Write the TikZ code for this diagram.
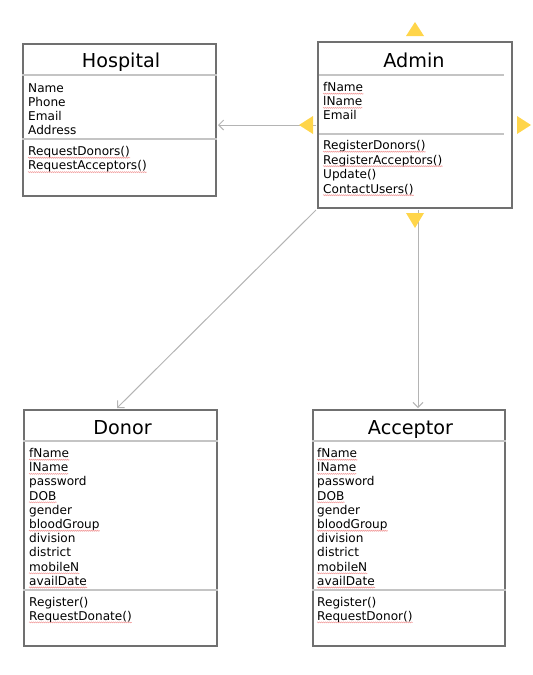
\documentclass[tikz,border=0pt]{standalone}
\usepackage{fontspec}
\setmainfont{DejaVu Sans}
\usetikzlibrary{arrows.meta,calc,decorations.pathmorphing}
\definecolor{boxgray}{HTML}{707070}
\definecolor{sepgray}{HTML}{C4C4C4}
\definecolor{linkgray}{HTML}{B4B4B4}
\definecolor{handle}{HTML}{FFD54A}
\definecolor{spellred}{HTML}{F2A0A0}
\newcommand{\bodyfnt}{\fontsize{12.1}{14}\selectfont}
\newcommand{\titlefnt}{\fontsize{19.2}{22}\selectfont}
\begin{document}
\begin{tikzpicture}[x=1pt,y=-1pt,
  classbox/.style={draw=boxgray,line width=2pt,fill=white,inner sep=0pt},
  sep/.style={draw=sepgray,line width=1.5pt},
  link/.style={draw=linkgray,line width=1pt,-{Straight Barb[length=5pt,width=10pt]}},
  attr/.style={anchor=base west,inner sep=0pt,font=\bodyfnt},
  title/.style={anchor=base,inner sep=0pt,font=\titlefnt},
  squig/.style={draw=spellred,line width=0.6pt,decorate,decoration={snake,amplitude=0.5pt,segment length=2pt}},
  hnd/.style={fill=handle,draw=none}]
\useasboundingbox (0,0) rectangle (533,675);
% boxes
\node[classbox,minimum width=193pt,minimum height=152pt] (hos) at (119.5,120) {};
\node[classbox,minimum width=194pt,minimum height=166pt] (adm) at (415,125) {};
\node[classbox,minimum width=193pt,minimum height=236pt] (don) at (120.5,528) {};
\node[classbox,minimum width=192pt,minimum height=236pt] (acc) at (409,528) {};
% separators
\draw[sep] ([yshift=-32pt]hos.north west) -- ([yshift=-32pt]hos.north east);
\draw[sep] ([yshift=-96pt]hos.north west) -- ([yshift=-96pt]hos.north east);
\draw[sep] ([xshift=2pt,yshift=-34pt]adm.north west) -- ([xshift=-9pt,yshift=-34pt]adm.north east);
\draw[sep] ([xshift=2pt,yshift=-93pt]adm.north west) -- ([xshift=-9pt,yshift=-93pt]adm.north east);
\draw[sep] ([yshift=-32pt]don.north west) -- ([yshift=-32pt]don.north east);
\draw[sep] ([yshift=-181pt]don.north west) -- ([yshift=-181pt]don.north east);
\draw[sep] ([yshift=-32pt]acc.north west) -- ([yshift=-32pt]acc.north east);
\draw[sep] ([yshift=-181pt]acc.north west) -- ([yshift=-181pt]acc.north east);
% titles
\node[title] (hosT) at (121,67) {Hospital};
\node[title] (admT) at (414,67) {Admin};
\node[title] (donT) at (122.5,434) {Donor};
\node[title] (accT) at (410.5,434) {Acceptor};
% Hospital
\foreach \t/\s [count=\i from 0] in {Name/0,Phone/0,Email/0,Address/0}
  {\node[attr] (hosA\i) at (28,{92+14.3*\i}) {\t};
   \ifnum\s=1 \draw[squig] ([yshift=-2.2pt]hosA\i.base west) -- ([yshift=-2.2pt]hosA\i.base east);\fi}
\foreach \t/\s [count=\i from 0] in {RequestDonors()/1,RequestAcceptors()/1}
  {\node[attr] (hosM\i) at (28,{155.5+14.4*\i}) {\t};
   \ifnum\s=1 \draw[squig] ([yshift=-2.2pt]hosM\i.base west) -- ([yshift=-2.2pt]hosM\i.base east);\fi}
% Admin
\foreach \t/\s [count=\i from 0] in {fName/1,lName/1,Email/0}
  {\node[attr] (admA\i) at (323,{91.5+14.2*\i}) {\t};
   \ifnum\s=1 \draw[squig] ([yshift=-2.2pt]admA\i.base west) -- ([yshift=-2.2pt]admA\i.base east);\fi}
\foreach \t/\s [count=\i from 0] in {RegisterDonors()/1,RegisterAcceptors()/1,Update()/0,ContactUsers()/1}
  {\node[attr] (admM\i) at (323,{149.5+14.5*\i}) {\t};
   \ifnum\s=1 \draw[squig] ([yshift=-2.2pt]admM\i.base west) -- ([yshift=-2.2pt]admM\i.base east);\fi}
% Donor
\foreach \t/\s [count=\i from 0] in {fName/1,lName/1,password/0,DOB/1,gender/0,bloodGroup/1,division/0,district/0,mobileN/1,availDate/1}
  {\node[attr] (donA\i) at (29,{457.5+14.2*\i}) {\t};
   \ifnum\s=1 \draw[squig] ([yshift=-2.2pt]donA\i.base west) -- ([yshift=-2.2pt]donA\i.base east);\fi}
\foreach \t/\s [count=\i from 0] in {Register()/0,RequestDonate()/1}
  {\node[attr] (donM\i) at (29,{606+14.2*\i}) {\t};
   \ifnum\s=1 \draw[squig] ([yshift=-2.2pt]donM\i.base west) -- ([yshift=-2.2pt]donM\i.base east);\fi}
% Acceptor
\foreach \t/\s [count=\i from 0] in {fName/1,lName/1,password/0,DOB/1,gender/0,bloodGroup/1,division/0,district/0,mobileN/1,availDate/1}
  {\node[attr] (accA\i) at (317,{457.5+14.2*\i}) {\t};
   \ifnum\s=1 \draw[squig] ([yshift=-2.2pt]accA\i.base west) -- ([yshift=-2.2pt]accA\i.base east);\fi}
\foreach \t/\s [count=\i from 0] in {Register()/0,RequestDonor()/1}
  {\node[attr] (accM\i) at (317,{606+14.2*\i}) {\t};
   \ifnum\s=1 \draw[squig] ([yshift=-2.2pt]accM\i.base west) -- ([yshift=-2.2pt]accM\i.base east);\fi}
% connectors
\draw[link] ([xshift=-1pt]adm.west) -- ([xshift=1pt]adm.west -| hos.east);
\draw[link] ([xshift=-1pt,yshift=-1pt]adm.south west) -- ([xshift=-3.5pt,yshift=1pt]don.north);
\draw[link] ([xshift=3pt,yshift=-1pt]adm.south) -- ([xshift=3pt,yshift=1pt]adm.south |- acc.north);
% selection handles
\fill[hnd] ([xshift=-9pt,yshift=5pt]adm.north) -- ([xshift=9pt,yshift=5pt]adm.north) -- ([yshift=19pt]adm.north) -- cycle;
\fill[hnd] ([xshift=-4pt,yshift=9pt]adm.west) -- ([xshift=-4pt,yshift=-9pt]adm.west) -- ([xshift=-18pt]adm.west) -- cycle;
\fill[hnd] ([xshift=4pt,yshift=9pt]adm.east) -- ([xshift=4pt,yshift=-9pt]adm.east) -- ([xshift=18pt]adm.east) -- cycle;
\fill[hnd] ([xshift=-9pt,yshift=-4pt]adm.south) -- ([xshift=9pt,yshift=-4pt]adm.south) -- ([yshift=-19pt]adm.south) -- cycle;
\end{tikzpicture}
\end{document}
